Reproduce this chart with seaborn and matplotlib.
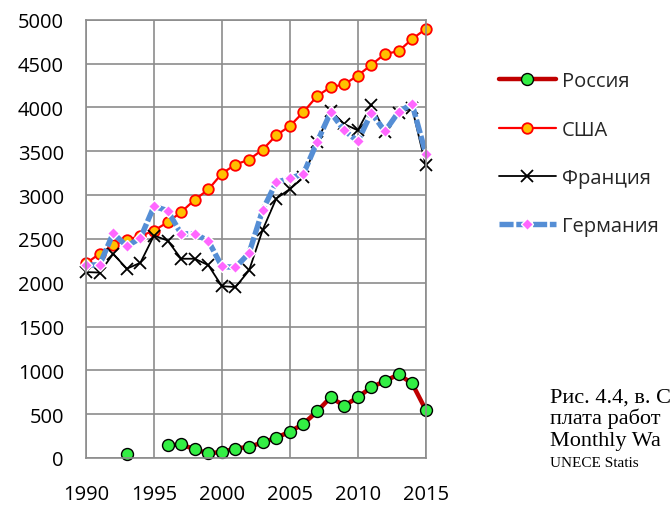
import numpy as np
import pandas as pd
import matplotlib
matplotlib.use('Agg')
import matplotlib.pyplot as plt
from matplotlib.lines import Line2D
import seaborn as sns

# data
years = list(range(1990, 2016))
russia = [np.nan, np.nan, np.nan, 50, np.nan, np.nan, 146, 154, 100, 52, 70, 108, 127,
          177, 231, 300, 389, 531, 692, 596, 692, 808, 877, 954, 850, 550]
usa = [2220, 2330, 2428, 2492, 2530, 2595, 2688, 2805, 2946, 3063, 3245, 3348, 3404,
       3518, 3681, 3787, 3946, 4128, 4231, 4261, 4363, 4485, 4610, 4640, 4780, 4894]
france = [2121, 2115, 2329, 2159, 2227, 2538, 2481, 2273, 2273, 2200, 1960, 1950, 2140,
          2602, 2960, 3068, 3200, 3600, 3960, 3810, 3738, 4030, 3720, 3935, 3992, 3337]
germany = [2200, 2204, 2564, 2417, 2508, 2871, 2822, 2557, 2557, 2477, 2185, 2174, 2337,
           2829, 3144, 3190, 3242, 3602, 3943, 3738, 3613, 3936, 3727, 3947, 4038, 3473]
names = ['Россия', 'США', 'Франция', 'Германия']
# caption fragment, cut at the picture edge in the reference
caption = ['Рис. 4.4, в. С', 'плата работ', 'Monthly Wa', 'UNECE Statis']

sns.set_style('white')
plt.rcParams['font.family'] = ['Open Sans', 'DejaVu Sans']

fig = plt.figure(figsize=(6.7, 5.06), dpi=100)
ax = fig.add_axes([0.1284, 0.0929, 0.507, 0.8662])

# series styles (Excel-like)
styles = {
    'Россия': dict(color='#C00000', lw=3.2, marker='o', ms=8.6, mfc='#33EE44', mec='black', mew=1.0),
    'США': dict(color='#FF0000', lw=1.6, marker='o', ms=7.6, mfc='#FFC000', mec='#FF0000', mew=1.3),
    'Франция': dict(color='black', lw=1.3, marker='x', ms=8, mfc='black', mec='black', mew=1.3),
    'Германия': dict(color='#558ED5', lw=3.9, marker='D', ms=6.5, mfc='#FF66FF', mec='white', mew=1.0,
                     ls=(0, (2.6, 0.5))),
}

series = {'Россия': russia, 'США': usa, 'Франция': france, 'Германия': germany}
for name in names:
    df = pd.DataFrame({'year': years, 'value': series[name]})
    # break the line where values are missing
    df['seg'] = df['value'].isna().cumsum()
    df = df.dropna()
    st = styles[name]
    sns.lineplot(data=df, x='year', y='value', units='seg', estimator=None, ax=ax,
                 color=st['color'], linewidth=st['lw'], linestyle=st.get('ls', '-'),
                 marker=st['marker'], markersize=st['ms'], markerfacecolor=st['mfc'],
                 markeredgecolor=st['mec'], markeredgewidth=st['mew'], clip_on=False,
                 legend=False)

ax.set_xlim(1990, 2015)
ax.set_ylim(0, 5000)
ax.set_xticks(range(1990, 2016, 5))
ax.set_yticks(range(0, 5001, 500))
ax.set_xlabel('')
ax.set_ylabel('')
ax.grid(True, color='#8C8C8C', lw=1.2)
ax.set_axisbelow(True)
for sp in ax.spines.values():
    sp.set_color('#8C8C8C')
    sp.set_linewidth(1.2)
ax.tick_params(axis='both', which='both', direction='out', length=6, width=1.2,
               color='#8C8C8C', labelsize=14.5, labelcolor='black')
ax.tick_params(axis='y', pad=10)
ax.tick_params(axis='x', pad=13)

handles = []
for name in names:
    st = styles[name]
    handles.append(Line2D([], [], color=st['color'], lw=st['lw'], ls=st.get('ls', '-'),
                          marker=st['marker'], ms=st['ms'], mfc=st['mfc'], mec=st['mec'],
                          mew=st['mew']))
fig.legend(handles, names, loc='upper left', bbox_to_anchor=(0.745, 0.857),
           frameon=False, fontsize=14.5, handlelength=2.8, handletextpad=0.3,
           labelspacing=1.4, borderaxespad=0, borderpad=0)

cap = dict(family='Liberation Serif', color='black', va='baseline', ha='left')
fig.text(550 / 670, 1 - 403 / 506, caption[0], fontsize=16, **cap)
fig.text(550 / 670, 1 - 424 / 506, caption[1], fontsize=16, **cap)
fig.text(550 / 670, 1 - 446 / 506, caption[2], fontsize=16, **cap)
fig.text(550 / 670, 1 - 467 / 506, caption[3], fontsize=11, **cap)

fig.savefig('out.png', dpi=100)
